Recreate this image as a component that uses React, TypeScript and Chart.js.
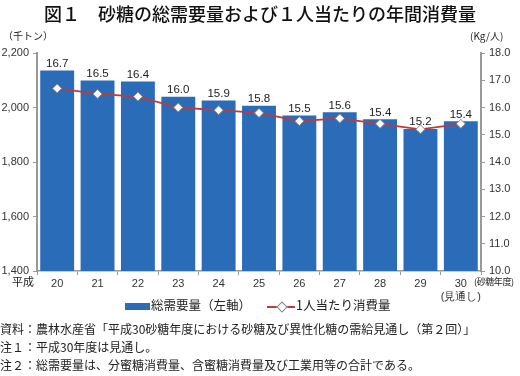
import React, { useEffect, useRef } from "react";
import { Chart, registerables } from "chart.js";

Chart.register(...registerables);

const years = ["20", "21", "22", "23", "24", "25", "26", "27", "28", "29", "30"];
const demand = [2136, 2099, 2095, 2039, 2026, 2006, 1971, 1983, 1957, 1921, 1950];
const perCapita = [16.7, 16.5, 16.4, 16.0, 15.9, 15.8, 15.5, 15.6, 15.4, 15.2, 15.4];
const leftTicks = [1400, 1600, 1800, 2000, 2200];
const rightTicks = [10, 11, 12, 13, 14, 15, 16, 17, 18];

const BAR = "#2b6cb8";
const LINE = "#c0393b";
const JP = '"Noto Sans CJK JP", "Liberation Sans", sans-serif';
const NUM = '"Liberation Sans", Arial, sans-serif';

const labelPlugin = {
  id: "barLabels",
  afterDatasetsDraw(chart: any) {
    const ctx = chart.ctx;
    const meta = chart.getDatasetMeta(0);
    ctx.save();
    meta.data.forEach((bar: any, i: number) => {
      ctx.font = `12px ${NUM}`;
      ctx.fillStyle = "#ffffff";
      ctx.textAlign = "center";
      ctx.textBaseline = "middle";
      ctx.fillText(demand[i].toLocaleString("en-US"), bar.x, (bar.y + bar.base) / 2);
      ctx.font = `11.5px ${NUM}`;
      ctx.fillStyle = "#222222";
      ctx.textBaseline = "bottom";
      ctx.fillText(perCapita[i].toFixed(1), bar.x, bar.y - 1);
    });
    ctx.restore();
  },
};

export default function App() {
  const ref = useRef<HTMLCanvasElement>(null);
  useEffect(() => {
    if (!ref.current) return;
    const chart = new Chart(ref.current, {
      type: "bar",
      data: {
        labels: years.map((y, i) => (i === years.length - 1 ? [y, "(見通し)"] : y)),
        datasets: [
          {
            type: "bar",
            label: "総需要量（左軸）",
            data: demand,
            backgroundColor: BAR,
            yAxisID: "y",
            barPercentage: 0.84,
            categoryPercentage: 1,
            order: 2,
          },
          {
            type: "line",
            label: "1人当たり消費量",
            data: perCapita,
            borderColor: LINE,
            borderWidth: 1.8,
            pointStyle: "rectRot",
            pointRadius: 4.5,
            pointBackgroundColor: "#ffffff",
            pointBorderColor: "#888888",
            pointBorderWidth: 1,
            yAxisID: "y1",
            order: 1,
          } as any,
        ],
      },
      options: {
        animation: false,
        responsive: false,
        layout: { padding: { top: 53, left: 0, right: 0, bottom: 0 } },
        plugins: { legend: { display: false }, tooltip: { enabled: false } },
        scales: {
          x: {
            grid: { display: true, drawOnChartArea: false, offset: true, tickLength: 4, color: "#999" },
            border: { color: "#999", width: 1.5 },
            ticks: {
              font: { size: 11, family: NUM },
              color: "#333",
              padding: 2,
              maxRotation: 0,
              autoSkip: false,
            },
            afterFit: (s: any) => { s.height = 105; },
          },
          y: {
            position: "left",
            min: 1400,
            max: 2200,
            afterBuildTicks: (s: any) => { s.ticks = leftTicks.map((v) => ({ value: v })); },
            grid: { drawOnChartArea: false, tickLength: 4, color: "#999" },
            border: { color: "#999", width: 2 },
            ticks: {
              font: { size: 11, family: NUM },
              color: "#333",
              padding: 4,
              callback: (v: any) => Number(v).toLocaleString("en-US"),
            },
            afterFit: (s: any) => { s.width = 37; },
          },
          y1: {
            position: "right",
            min: 10,
            max: 18,
            afterBuildTicks: (s: any) => { s.ticks = rightTicks.map((v) => ({ value: v })); },
            grid: { drawOnChartArea: false, tickLength: 4, color: "#999" },
            border: { color: "#999", width: 2 },
            ticks: {
              font: { size: 11, family: NUM },
              color: "#333",
              padding: 4,
              callback: (v: any) => Number(v).toFixed(1),
            },
            afterFit: (s: any) => { s.width = 39; },
          },
        },
      },
      plugins: [labelPlugin],
    });
    return () => chart.destroy();
  }, []);

  const abs = (x: number, y: number, extra: React.CSSProperties = {}): React.CSSProperties => ({
    position: "absolute",
    left: x,
    top: y,
    whiteSpace: "nowrap",
    lineHeight: 1,
    color: "#222",
    ...extra,
  });

  return (
    <div style={{ position: "absolute", left: 0, top: 0, width: 520, height: 376, background: "#fff", fontFamily: JP }}>
      <canvas ref={ref} width={520} height={376} style={{ position: "absolute", left: 0, top: 0 }} />
      <div style={abs(0, 4, { width: 520, textAlign: "center", fontSize: 18, fontWeight: 500, color: "#111" })}>
        図１　砂糖の総需要量および１人当たりの年間消費量
      </div>
      <div style={abs(3, 31, { fontSize: 10 })}>（千トン）</div>
      <div style={abs(470, 31, { fontSize: 10 })}>(Kg/人)</div>
      <div style={abs(12, 276, { fontSize: 11 })}>平成</div>
      <div style={abs(474, 277, { fontSize: 9, letterSpacing: -0.4 })}>(砂糖年度)</div>
      <div style={{ position: "absolute", left: 125, top: 303, width: 25, height: 7, background: BAR }} />
      <div style={abs(151, 299, { fontSize: 12.5 })}>総需要量（左軸）</div>
      <div style={{ position: "absolute", left: 267, top: 306, width: 28, height: 2, background: LINE }} />
      <div
        style={{
          position: "absolute",
          left: 278,
          top: 303,
          width: 6,
          height: 6,
          background: "#fff",
          border: "1px solid #888",
          transform: "rotate(45deg)",
        }}
      />
      <div style={abs(296, 299, { fontSize: 12.5 })}>1人当たり消費量</div>
      <div style={abs(0, 323, { fontSize: 12 })}>資料：農林水産省「平成30砂糖年度における砂糖及び異性化糖の需給見通し（第２回）」</div>
      <div style={abs(0, 341, { fontSize: 12 })}>注１：平成30年度は見通し。</div>
      <div style={abs(0, 359, { fontSize: 12 })}>注２：総需要量は、分蜜糖消費量、含蜜糖消費量及び工業用等の合計である。</div>
    </div>
  );
}
